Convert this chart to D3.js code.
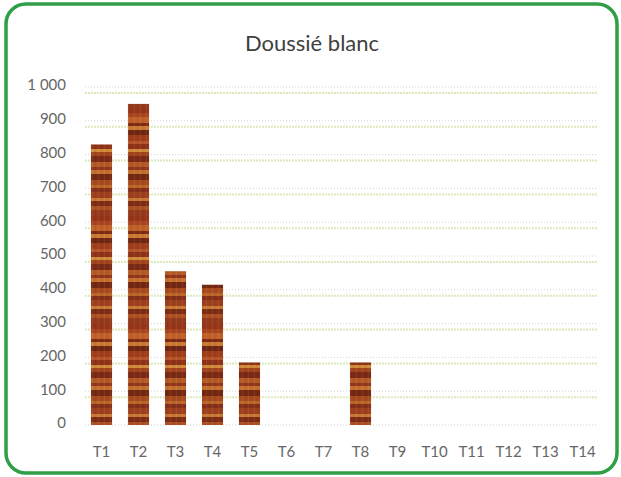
<!DOCTYPE html>
<html>
<head>
<meta charset="utf-8">
<script src="https://cdn.jsdelivr.net/npm/d3@7"></script>
<style>
  body { margin: 0; background: #fff; }
  svg { display: block; }
</style>
</head>
<body>
<div id="chart"></div>
<script>
// data
var categories = ['T1','T2','T3','T4','T5','T6','T7','T8','T9','T10','T11','T12','T13','T14'];
var values = [830, 950, 455, 415, 185, 0, 0, 185, 0, 0, 0, 0, 0, 0];
var yTicks = [0, 100, 200, 300, 400, 500, 600, 700, 800, 900, 1000];
var title = 'Doussié blanc';

// wood grain stripes for the bar fill (style only)
var grain = ['#963518','#a94520','#c0612a','#7e2a14','#cb7a34','#6f2612','#a03e1c','#b5552a',
             '#8f3318','#d08a3a','#a2441c','#7a2a15','#b45a26','#93371b','#c3702e','#742812',
             '#a84a1d','#bb6529','#86301a','#9e401e','#c67a33','#7d2c16','#ad5022','#953a1c'];
var grainH = [5, 4, 6, 3, 4, 5, 6, 3, 5, 3, 4, 6, 5, 3, 4, 6, 5, 3, 4, 6, 3, 5, 4, 6];

var W = 621, H = 477;
var margin = {top: 87, right: 20, bottom: 52, left: 83};

var svg = d3.select('#chart').append('svg')
    .attr('width', W)
    .attr('height', H)
    .style('font-family', 'Lato, "Open Sans", sans-serif');

// wood pattern
var defs = svg.append('defs');
var pat = defs.append('pattern')
    .attr('id', 'wood')
    .attr('patternUnits', 'userSpaceOnUse')
    .attr('width', 6)
    .attr('height', d3.sum(grainH));
var acc = 0;
grain.forEach(function(c, i) {
    pat.append('rect')
        .attr('x', 0).attr('y', acc)
        .attr('width', 6).attr('height', grainH[i])
        .attr('fill', c);
    acc += grainH[i];
});
pat.append('rect').attr('x', 2).attr('y', 0).attr('width', 1).attr('height', acc)
    .attr('fill', '#fff').attr('opacity', 0.06);
pat.append('rect').attr('x', 5).attr('y', 0).attr('width', 1).attr('height', acc)
    .attr('fill', '#000').attr('opacity', 0.05);

// frame
svg.append('rect')
    .attr('x', 6).attr('y', 4)
    .attr('width', W - 10).attr('height', H - 8)
    .attr('rx', 20).attr('ry', 20)
    .attr('fill', '#fff')
    .attr('stroke', '#2f9e46')
    .attr('stroke-width', 3.5);

var x = d3.scaleBand()
    .domain(categories)
    .range([margin.left, W - margin.right])
    .paddingInner(0.43)
    .paddingOuter(0.215);

var y = d3.scaleLinear()
    .domain([0, 1000])
    .range([H - margin.bottom, margin.top]);

// gridlines: faint gray dotted + greenish dotted band (as printed)
var grid = svg.append('g');
grid.selectAll('.gg')
    .data(yTicks.filter(function(d) { return d > 0; }))
    .enter().append('line')
        .attr('x1', margin.left + 2).attr('x2', W - 24)
        .attr('y1', function(d) { return y(d); })
        .attr('y2', function(d) { return y(d); })
        .attr('stroke', '#d4d4d4')
        .attr('stroke-width', 1)
        .attr('stroke-dasharray', '1,2');
grid.selectAll('.gl')
    .data(yTicks.filter(function(d) { return d > 0; }))
    .enter().append('line')
        .attr('x1', margin.left + 2).attr('x2', W - 24)
        .attr('y1', function(d) { return y(d) + 6; })
        .attr('y2', function(d) { return y(d) + 6; })
        .attr('stroke', '#dce9bc')
        .attr('stroke-width', 2)
        .attr('stroke-dasharray', '2,1');
// base line
svg.append('line')
    .attr('x1', margin.left + 2).attr('x2', W - 24)
    .attr('y1', y(0)).attr('y2', y(0))
    .attr('stroke', '#d0d0d0')
    .attr('stroke-dasharray', '1,2');

// bars
svg.selectAll('.bar')
    .data(values)
    .enter().append('rect')
        .attr('class', 'bar')
        .attr('x', function(d, i) { return x(categories[i]); })
        .attr('y', function(d) { return y(d); })
        .attr('width', x.bandwidth())
        .attr('height', function(d) { return y(0) - y(d); })
        .attr('fill', 'url(#wood)');

// y axis labels
var yAxis = d3.axisLeft(y).tickValues(yTicks).tickSize(0).tickPadding(0)
    .tickFormat(function(d) { return d >= 1000 ? '1 000' : d; });
var ya = svg.append('g')
    .attr('transform', 'translate(' + 66 + ',-2)')
    .call(yAxis);
ya.select('.domain').remove();
ya.selectAll('text')
    .attr('fill', '#666')
    .style('font-size', '15px')
    .style('font-family', 'Lato, "Open Sans", sans-serif');

// x axis labels
var xAxis = d3.axisBottom(x).tickSize(0).tickPadding(21);
var xa = svg.append('g')
    .attr('transform', 'translate(0,' + y(0) + ')')
    .call(xAxis);
xa.select('.domain').remove();
xa.selectAll('text')
    .attr('fill', '#666')
    .style('font-size', '15px')
    .style('font-family', 'Lato, "Open Sans", sans-serif');

// title
svg.append('text')
    .attr('x', 312)
    .attr('y', 51)
    .attr('text-anchor', 'middle')
    .attr('fill', '#404040')
    .style('font-size', '22px')
    .text(title);
</script>
</body>
</html>
